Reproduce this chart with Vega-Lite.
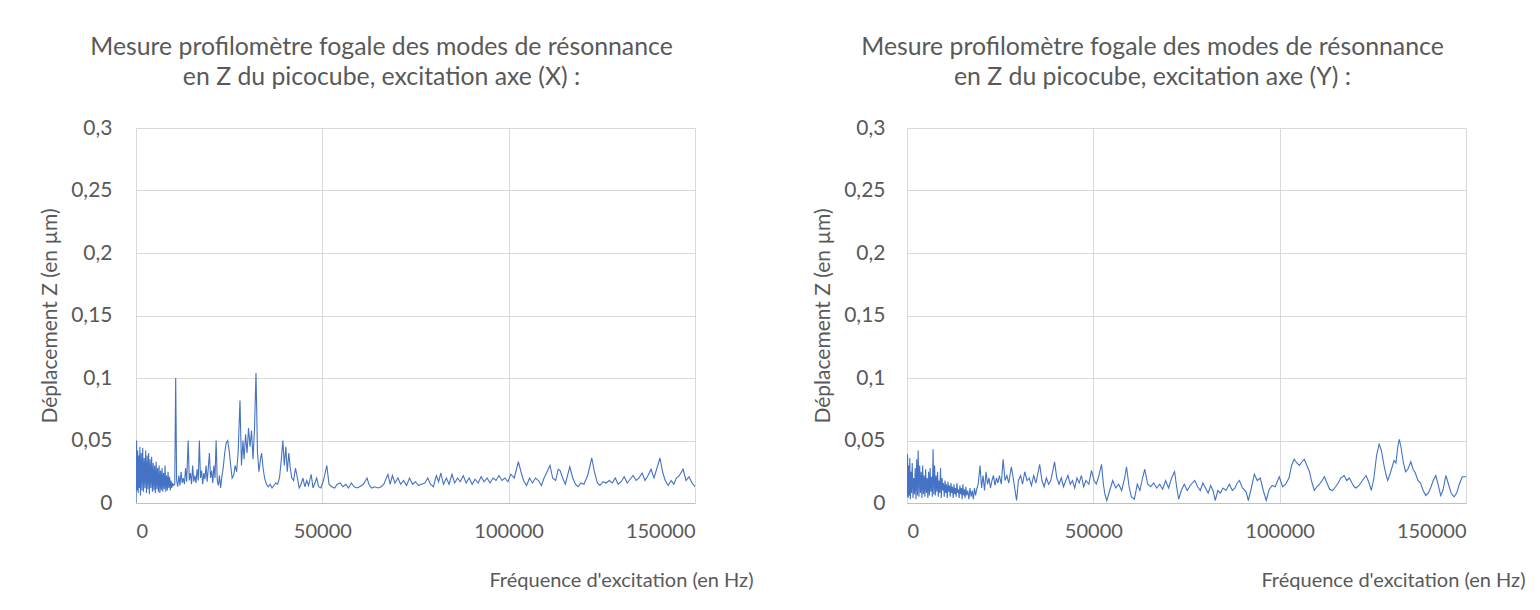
{
  "$schema": "https://vega.github.io/schema/vega-lite/v6.json",
  "background": "white",
  "padding": {"left": 39, "top": 35, "right": 5, "bottom": 5},
  "bounds": "flush",
  "spacing": 212,
  "config": {
    "view": {"stroke": null},
    "font": "Lato",
    "axis": {
      "labelFont": "Lato", "titleFont": "Lato", "labelColor": "#595959", "titleColor": "#595959",
      "gridColor": "#d9d9d9", "gridWidth": 1, "ticks": false, "titleFontWeight": "normal"
    },
    "title": {"font": "Lato", "fontSize": 24.8, "fontWeight": "normal", "color": "#595959", "lineHeight": 30, "dx": -34, "offset": 27}
  },
  "datasets": {
    "ax": [
      {"f":0,"z":0.0},{"f":150,"z":0.05},{"f":300,"z":0.01},{"f":450,"z":0.042},{"f":600,"z":0.008},{"f":750,"z":0.038},{"f":900,"z":0.012},{"f":1050,"z":0.045},{"f":1200,"z":0.006},{"f":1400,"z":0.04},{"f":1600,"z":0.01},{"f":1800,"z":0.044},{"f":2000,"z":0.009},{"f":2200,"z":0.036},{"f":2400,"z":0.012},{"f":2600,"z":0.042},{"f":2800,"z":0.008},{"f":3000,"z":0.038},{"f":3200,"z":0.011},{"f":3400,"z":0.04},{"f":3600,"z":0.007},{"f":3800,"z":0.035},{"f":4000,"z":0.012},{"f":4200,"z":0.037},{"f":4400,"z":0.009},{"f":4600,"z":0.032},{"f":4800,"z":0.01},{"f":5000,"z":0.03},{"f":5200,"z":0.008},{"f":5400,"z":0.033},{"f":5600,"z":0.011},{"f":5800,"z":0.028},{"f":6000,"z":0.009},{"f":6200,"z":0.03},{"f":6400,"z":0.008},{"f":6600,"z":0.026},{"f":6800,"z":0.01},{"f":7000,"z":0.028},{"f":7200,"z":0.009},{"f":7400,"z":0.024},{"f":7600,"z":0.011},{"f":7800,"z":0.03},{"f":8000,"z":0.009},{"f":8200,"z":0.022},{"f":8400,"z":0.01},{"f":8600,"z":0.025},{"f":8800,"z":0.012},{"f":9000,"z":0.021},{"f":9200,"z":0.01},{"f":9400,"z":0.018},{"f":9600,"z":0.012},{"f":9800,"z":0.016},{"f":10000,"z":0.014},{"f":10400,"z":0.015},{"f":10650,"z":0.1},{"f":10900,"z":0.018},
      {"f":11200,"z":0.013},{"f":11500,"z":0.022},{"f":11800,"z":0.014},{"f":12100,"z":0.025},{"f":12400,"z":0.016},{"f":12700,"z":0.02},{"f":13000,"z":0.015},{"f":13300,"z":0.028},{"f":13600,"z":0.017},{"f":14000,"z":0.05},{"f":14300,"z":0.018},{"f":14600,"z":0.024},{"f":14900,"z":0.015},{"f":15200,"z":0.03},{"f":15500,"z":0.017},{"f":15800,"z":0.022},{"f":16100,"z":0.016},{"f":16400,"z":0.027},{"f":16700,"z":0.018},{"f":17000,"z":0.05},{"f":17300,"z":0.02},{"f":17600,"z":0.026},{"f":17900,"z":0.015},{"f":18200,"z":0.024},{"f":18500,"z":0.019},{"f":18800,"z":0.03},{"f":19100,"z":0.017},{"f":19400,"z":0.028},{"f":19700,"z":0.04},{"f":20000,"z":0.02},{"f":20300,"z":0.026},{"f":20600,"z":0.016},{"f":20900,"z":0.03},{"f":21200,"z":0.02},{"f":21500,"z":0.05},{"f":21800,"z":0.018},{"f":22100,"z":0.014},{"f":22400,"z":0.022},{"f":22700,"z":0.012},{"f":23000,"z":0.02},{"f":23400,"z":0.028},{"f":23800,"z":0.04},{"f":24200,"z":0.048},{"f":24600,"z":0.05},{"f":25000,"z":0.042},{"f":25400,"z":0.03},{"f":25800,"z":0.02},{"f":26200,"z":0.022},{"f":26600,"z":0.03},{"f":27000,"z":0.025},{"f":27400,"z":0.04},{"f":27900,"z":0.082},{"f":28300,"z":0.03},{"f":28700,"z":0.05},{"f":29000,"z":0.035},{"f":29400,"z":0.055},{"f":29800,"z":0.04},{"f":30200,"z":0.06},{"f":30600,"z":0.045},{"f":31000,"z":0.058},{"f":31400,"z":0.035},{"f":31800,"z":0.06},{"f":32200,"z":0.104},{"f":32600,"z":0.04},{"f":33000,"z":0.025},{"f":33400,"z":0.035},{"f":33700,"z":0.04},{"f":34100,"z":0.028},{"f":34500,"z":0.02},{"f":35000,"z":0.015},{"f":35500,"z":0.013},{"f":36000,"z":0.015},{"f":36500,"z":0.012},{"f":37000,"z":0.014},{"f":37500,"z":0.016},{"f":38000,"z":0.015},{"f":38500,"z":0.02},{"f":39000,"z":0.035},{"f":39400,"z":0.05},{"f":39800,"z":0.03},{"f":40200,"z":0.045},{"f":40600,"z":0.025},{"f":41000,"z":0.04},{"f":41400,"z":0.028},{"f":41800,"z":0.02},{"f":42300,"z":0.018},{"f":42800,"z":0.028},{"f":43300,"z":0.02},{"f":43800,"z":0.012},{"f":44300,"z":0.015},{"f":44800,"z":0.02},{"f":45300,"z":0.013},{"f":45800,"z":0.018},{"f":46300,"z":0.014},{"f":47000,"z":0.023},{"f":47500,"z":0.012},{"f":48000,"z":0.016},{"f":48500,"z":0.02},{"f":49000,"z":0.013},{"f":49600,"z":0.012},{"f":50300,"z":0.018},{"f":51200,"z":0.03},{"f":51800,"z":0.015},{"f":52500,"z":0.013},{"f":53300,"z":0.012},{"f":54000,"z":0.015},{"f":54800,"z":0.016},{"f":55500,"z":0.013},{"f":56300,"z":0.015},{"f":57000,"z":0.012},{"f":57800,"z":0.016},{"f":58500,"z":0.013},{"f":59300,"z":0.012},{"f":60000,"z":0.013},{"f":61000,"z":0.015},{"f":62000,"z":0.02},{"f":62500,"z":0.015},{"f":63200,"z":0.012},{"f":64000,"z":0.013},{"f":65000,"z":0.012},{"f":65800,"z":0.013},{"f":66500,"z":0.015},{"f":67600,"z":0.023},{"f":68200,"z":0.015},{"f":68800,"z":0.022},{"f":69500,"z":0.016},{"f":70300,"z":0.02},{"f":71000,"z":0.015},{"f":71800,"z":0.018},{"f":72600,"z":0.014},{"f":73400,"z":0.02},{"f":74200,"z":0.015},{"f":75000,"z":0.017},{"f":75800,"z":0.014},{"f":76600,"z":0.015},{"f":77500,"z":0.016},{"f":78300,"z":0.02},{"f":79000,"z":0.015},{"f":79800,"z":0.013},{"f":80600,"z":0.022},{"f":81200,"z":0.017},{"f":81800,"z":0.024},{"f":82500,"z":0.015},{"f":83300,"z":0.02},{"f":84000,"z":0.015},{"f":84800,"z":0.023},{"f":85500,"z":0.016},{"f":86300,"z":0.02},{"f":87000,"z":0.017},{"f":87800,"z":0.022},{"f":88600,"z":0.016},{"f":89400,"z":0.02},{"f":90200,"z":0.015},{"f":91000,"z":0.019},{"f":91800,"z":0.016},{"f":92600,"z":0.021},{"f":93400,"z":0.017},{"f":94200,"z":0.02},{"f":95000,"z":0.016},{"f":95800,"z":0.02},{"f":96600,"z":0.018},{"f":97400,"z":0.022},{"f":98200,"z":0.018},{"f":99000,"z":0.02},{"f":99800,"z":0.017},{"f":100600,"z":0.023},{"f":101500,"z":0.02},{"f":102600,"z":0.033},{"f":103300,"z":0.025},{"f":104000,"z":0.018},{"f":104800,"z":0.014},{"f":105600,"z":0.02},{"f":106400,"z":0.016},{"f":107200,"z":0.02},{"f":108000,"z":0.018},{"f":108800,"z":0.014},{"f":109500,"z":0.02},{"f":110300,"z":0.025},{"f":111100,"z":0.03},{"f":111800,"z":0.02},{"f":112600,"z":0.018},{"f":113300,"z":0.027},{"f":113800,"z":0.026},{"f":114500,"z":0.02},{"f":115200,"z":0.015},{"f":116400,"z":0.029},{"f":117200,"z":0.02},{"f":117900,"z":0.015},{"f":118600,"z":0.013},{"f":119400,"z":0.016},{"f":120200,"z":0.015},{"f":121200,"z":0.022},{"f":122300,"z":0.036},{"f":123000,"z":0.025},{"f":123800,"z":0.016},{"f":124500,"z":0.014},{"f":125300,"z":0.017},{"f":126100,"z":0.016},{"f":127000,"z":0.018},{"f":127800,"z":0.016},{"f":128600,"z":0.02},{"f":129400,"z":0.015},{"f":130200,"z":0.017},{"f":131000,"z":0.021},{"f":131800,"z":0.016},{"f":132600,"z":0.019},{"f":133400,"z":0.022},{"f":134200,"z":0.018},{"f":135000,"z":0.02},{"f":135800,"z":0.024},{"f":136600,"z":0.018},{"f":137400,"z":0.022},{"f":138200,"z":0.027},{"f":139000,"z":0.02},{"f":139800,"z":0.028},{"f":140600,"z":0.036},{"f":141300,"z":0.025},{"f":142000,"z":0.018},{"f":142800,"z":0.014},{"f":143600,"z":0.018},{"f":144300,"z":0.015},{"f":145000,"z":0.02},{"f":145800,"z":0.022},{"f":146800,"z":0.027},{"f":147600,"z":0.018},{"f":148400,"z":0.021},{"f":149200,"z":0.016},{"f":150000,"z":0.013}
    ],
    "ay": [
      {"f":0,"z":0.005},{"f":150,"z":0.039},{"f":300,"z":0.004},{"f":450,"z":0.03},{"f":600,"z":0.006},{"f":750,"z":0.036},{"f":900,"z":0.003},{"f":1050,"z":0.025},{"f":1200,"z":0.008},{"f":1400,"z":0.032},{"f":1600,"z":0.004},{"f":1800,"z":0.02},{"f":2000,"z":0.007},{"f":2200,"z":0.028},{"f":2400,"z":0.003},{"f":2600,"z":0.035},{"f":2800,"z":0.006},{"f":3000,"z":0.042},{"f":3200,"z":0.005},{"f":3400,"z":0.03},{"f":3600,"z":0.008},{"f":3800,"z":0.025},{"f":4000,"z":0.004},{"f":4200,"z":0.03},{"f":4400,"z":0.007},{"f":4600,"z":0.022},{"f":4800,"z":0.005},{"f":5000,"z":0.027},{"f":5200,"z":0.008},{"f":5400,"z":0.02},{"f":5600,"z":0.004},{"f":5800,"z":0.025},{"f":6000,"z":0.006},{"f":6200,"z":0.028},{"f":6400,"z":0.009},{"f":6600,"z":0.021},{"f":6800,"z":0.005},{"f":7000,"z":0.043},{"f":7200,"z":0.007},{"f":7400,"z":0.03},{"f":7600,"z":0.006},{"f":7800,"z":0.022},{"f":8000,"z":0.009},{"f":8200,"z":0.025},{"f":8400,"z":0.005},{"f":8600,"z":0.018},{"f":8800,"z":0.008},{"f":9000,"z":0.028},{"f":9200,"z":0.004},{"f":9400,"z":0.02},{"f":9600,"z":0.01},{"f":9800,"z":0.016},{"f":10000,"z":0.005},{"f":10200,"z":0.018},{"f":10400,"z":0.008},{"f":10600,"z":0.015},{"f":10800,"z":0.004},{"f":11000,"z":0.017},{"f":11200,"z":0.009},{"f":11400,"z":0.014},{"f":11600,"z":0.005},{"f":11800,"z":0.016},{"f":12000,"z":0.008},{"f":12200,"z":0.013},{"f":12400,"z":0.004},{"f":12600,"z":0.015},{"f":12800,"z":0.007},{"f":13000,"z":0.012},{"f":13200,"z":0.005},{"f":13400,"z":0.016},{"f":13600,"z":0.008},{"f":13800,"z":0.011},{"f":14000,"z":0.004},{"f":14200,"z":0.014},{"f":14400,"z":0.007},{"f":14600,"z":0.012},{"f":14800,"z":0.003},{"f":15000,"z":0.015},{"f":15200,"z":0.006},{"f":15400,"z":0.011},{"f":15600,"z":0.004},{"f":15800,"z":0.013},{"f":16000,"z":0.006},{"f":16300,"z":0.01},{"f":16600,"z":0.003},{"f":16900,"z":0.012},{"f":17200,"z":0.005},{"f":17500,"z":0.01},{"f":17800,"z":0.003},{"f":18100,"z":0.012},{"f":18400,"z":0.006},{"f":18700,"z":0.011},
      {"f":19100,"z":0.015},{"f":19600,"z":0.03},{"f":20000,"z":0.012},{"f":20400,"z":0.022},{"f":20800,"z":0.01},{"f":21200,"z":0.025},{"f":21600,"z":0.015},{"f":22000,"z":0.02},{"f":22400,"z":0.012},{"f":22800,"z":0.018},{"f":23200,"z":0.022},{"f":23600,"z":0.014},{"f":24000,"z":0.02},{"f":24400,"z":0.016},{"f":24800,"z":0.022},{"f":25300,"z":0.015},{"f":25800,"z":0.035},{"f":26300,"z":0.018},{"f":26800,"z":0.022},{"f":27300,"z":0.016},{"f":28000,"z":0.029},{"f":28600,"z":0.018},{"f":29400,"z":0.002},{"f":29900,"z":0.018},{"f":30500,"z":0.022},{"f":31000,"z":0.015},{"f":31600,"z":0.025},{"f":32200,"z":0.018},{"f":32800,"z":0.02},{"f":33400,"z":0.014},{"f":34000,"z":0.022},{"f":34600,"z":0.016},{"f":35600,"z":0.031},{"f":36200,"z":0.018},{"f":36800,"z":0.013},{"f":37400,"z":0.02},{"f":38000,"z":0.015},{"f":38600,"z":0.018},{"f":39600,"z":0.033},{"f":40200,"z":0.02},{"f":40800,"z":0.015},{"f":41400,"z":0.02},{"f":42000,"z":0.013},{"f":42600,"z":0.018},{"f":43200,"z":0.022},{"f":43800,"z":0.015},{"f":44400,"z":0.018},{"f":45000,"z":0.012},{"f":45600,"z":0.02},{"f":46200,"z":0.016},{"f":46800,"z":0.022},{"f":47400,"z":0.013},{"f":48000,"z":0.018},{"f":48800,"z":0.015},{"f":49500,"z":0.026},{"f":50200,"z":0.018},{"f":50800,"z":0.015},{"f":51500,"z":0.022},{"f":52200,"z":0.031},{"f":52700,"z":0.015},{"f":53100,"z":0.007},{"f":53600,"z":0.002},{"f":54400,"z":0.01},{"f":55200,"z":0.018},{"f":56000,"z":0.012},{"f":56800,"z":0.015},{"f":57600,"z":0.01},{"f":58400,"z":0.02},{"f":58900,"z":0.029},{"f":59600,"z":0.013},{"f":60200,"z":0.005},{"f":61000,"z":0.003},{"f":61800,"z":0.015},{"f":62500,"z":0.01},{"f":63200,"z":0.02},{"f":63800,"z":0.027},{"f":64600,"z":0.015},{"f":65400,"z":0.013},{"f":66200,"z":0.016},{"f":67000,"z":0.012},{"f":67800,"z":0.015},{"f":68600,"z":0.011},{"f":69400,"z":0.018},{"f":70200,"z":0.012},{"f":71000,"z":0.02},{"f":71800,"z":0.025},{"f":72400,"z":0.012},{"f":72900,"z":0.003},{"f":73600,"z":0.01},{"f":74400,"z":0.015},{"f":75200,"z":0.01},{"f":76000,"z":0.014},{"f":77200,"z":0.018},{"f":78000,"z":0.013},{"f":78700,"z":0.01},{"f":79400,"z":0.016},{"f":80100,"z":0.012},{"f":80800,"z":0.008},{"f":81500,"z":0.014},{"f":82200,"z":0.009},{"f":82700,"z":0.002},{"f":83400,"z":0.01},{"f":84100,"z":0.008},{"f":84800,"z":0.012},{"f":85600,"z":0.01},{"f":86500,"z":0.015},{"f":87300,"z":0.01},{"f":88000,"z":0.012},{"f":88600,"z":0.016},{"f":89200,"z":0.018},{"f":90000,"z":0.012},{"f":91000,"z":0.009},{"f":91600,"z":0.002},{"f":92400,"z":0.012},{"f":93200,"z":0.023},{"f":94000,"z":0.018},{"f":94800,"z":0.02},{"f":95600,"z":0.01},{"f":96400,"z":0.002},{"f":97200,"z":0.011},{"f":98000,"z":0.014},{"f":98800,"z":0.013},{"f":99900,"z":0.021},{"f":100800,"z":0.013},{"f":101600,"z":0.015},{"f":102500,"z":0.02},{"f":103200,"z":0.03},{"f":103900,"z":0.035},{"f":104600,"z":0.032},{"f":105300,"z":0.03},{"f":106000,"z":0.033},{"f":106600,"z":0.035},{"f":107300,"z":0.03},{"f":108000,"z":0.025},{"f":108600,"z":0.017},{"f":109300,"z":0.01},{"f":110000,"z":0.013},{"f":110700,"z":0.015},{"f":111400,"z":0.018},{"f":112000,"z":0.021},{"f":112700,"z":0.016},{"f":113400,"z":0.011},{"f":114200,"z":0.01},{"f":115000,"z":0.013},{"f":115700,"z":0.016},{"f":116400,"z":0.02},{"f":117300,"z":0.022},{"f":118000,"z":0.018},{"f":118700,"z":0.02},{"f":119400,"z":0.016},{"f":120000,"z":0.013},{"f":120500,"z":0.012},{"f":121300,"z":0.014},{"f":122200,"z":0.018},{"f":123200,"z":0.022},{"f":124000,"z":0.016},{"f":124600,"z":0.01},{"f":125300,"z":0.02},{"f":126000,"z":0.038},{"f":126700,"z":0.047},{"f":127300,"z":0.042},{"f":128000,"z":0.03},{"f":128600,"z":0.022},{"f":129000,"z":0.018},{"f":129700,"z":0.024},{"f":130300,"z":0.03},{"f":130700,"z":0.034},{"f":131200,"z":0.032},{"f":131700,"z":0.045},{"f":132100,"z":0.051},{"f":132600,"z":0.044},{"f":133200,"z":0.032},{"f":133800,"z":0.025},{"f":134400,"z":0.027},{"f":135200,"z":0.033},{"f":135800,"z":0.027},{"f":136400,"z":0.024},{"f":137100,"z":0.018},{"f":137800,"z":0.016},{"f":138500,"z":0.01},{"f":139200,"z":0.006},{"f":139900,"z":0.008},{"f":140500,"z":0.012},{"f":141200,"z":0.018},{"f":141900,"z":0.022},{"f":142500,"z":0.015},{"f":143200,"z":0.006},{"f":143800,"z":0.01},{"f":144600,"z":0.022},{"f":145300,"z":0.015},{"f":146000,"z":0.008},{"f":146800,"z":0.005},{"f":147500,"z":0.008},{"f":148200,"z":0.015},{"f":149000,"z":0.021},{"f":150000,"z":0.021}
    ]
  },
  "hconcat": [
    {
      "width": 559, "height": 375,
      "title": {"text": ["Mesure profilomètre fogale des modes de résonnance", "en Z du picocube, excitation axe (X) :"]},
      "data": {"name": "ax"},
      "mark": {"type": "line", "color": "#4472C4", "strokeWidth": 1.1, "clip": true},
      "encoding": {
        "x": {"field": "f", "type": "quantitative", "scale": {"domain": [0, 150000], "nice": false},
          "axis": {"values": [0, 50000, 100000, 150000], "format": "d", "labelFontSize": 20, "labelPadding": 18, "domainColor": "#bfbfbf",
            "title": "Fréquence d'excitation (en Hz)", "titleFontSize": 20, "titleAnchor": "end", "titleAlign": "right", "titleX": 617, "titleY": 77, "titleBaseline": "middle"}},
        "y": {"field": "z", "type": "quantitative", "scale": {"domain": [0, 0.3], "nice": false},
          "axis": {"values": [0, 0.05, 0.1, 0.15, 0.2, 0.25, 0.3], "labelExpr": "replace(format(datum.value, '.2~f'), '.', ',')", "labelFontSize": 21, "labelPadding": 24, "domain": false,
            "title": "Déplacement Z (en µm)", "titleFontSize": 21, "titlePadding": 10}}
      }
    },
    {
      "width": 559, "height": 375,
      "title": {"text": ["Mesure profilomètre fogale des modes de résonnance", "en Z du picocube, excitation axe (Y) :"]},
      "data": {"name": "ay"},
      "mark": {"type": "line", "color": "#4472C4", "strokeWidth": 1.1, "clip": true},
      "encoding": {
        "x": {"field": "f", "type": "quantitative", "scale": {"domain": [0, 150000], "nice": false},
          "axis": {"values": [0, 50000, 100000, 150000], "format": "d", "labelFontSize": 20, "labelPadding": 18, "domainColor": "#bfbfbf",
            "title": "Fréquence d'excitation (en Hz)", "titleFontSize": 20, "titleAnchor": "end", "titleAlign": "right", "titleX": 618, "titleY": 77, "titleBaseline": "middle"}},
        "y": {"field": "z", "type": "quantitative", "scale": {"domain": [0, 0.3], "nice": false},
          "axis": {"values": [0, 0.05, 0.1, 0.15, 0.2, 0.25, 0.3], "labelExpr": "replace(format(datum.value, '.2~f'), '.', ',')", "labelFontSize": 21, "labelPadding": 22, "domain": false,
            "title": "Déplacement Z (en µm)", "titleFontSize": 21, "titlePadding": 10}}
      }
    }
  ]
}
